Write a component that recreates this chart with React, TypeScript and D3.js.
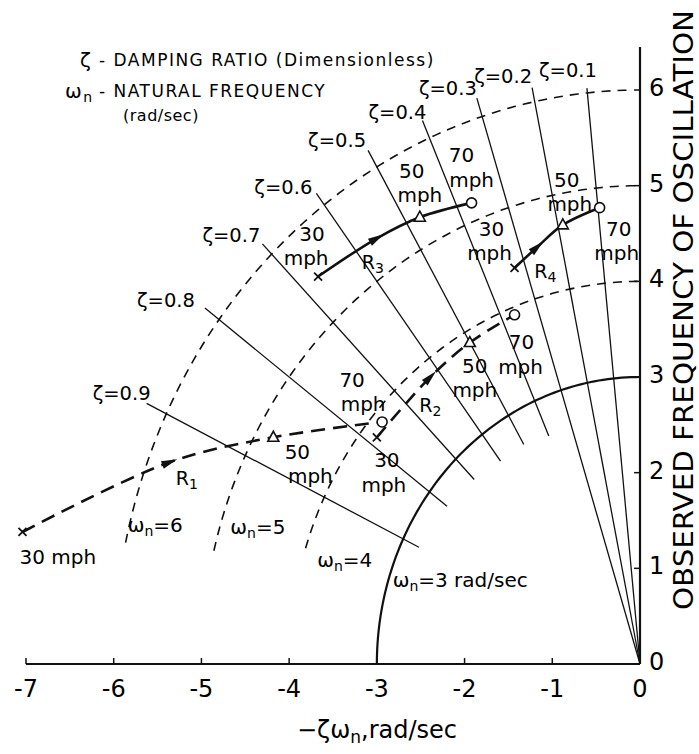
import * as d3 from "d3";

// axis ticks
const xTicks = [-7, -6, -5, -4, -3, -2, -1, 0];
const yTicks = [0, 1, 2, 3, 4, 5, 6];

// constant damping ratio lines (radius range in rad/sec)
const zetas = [0.1, 0.2, 0.3, 0.4, 0.5, 0.6, 0.7, 0.8, 0.9];
const zetaFrom = [0, 0, 0, 2.6, 2.65, 2.65, 2.7, 2.75, 2.8];
const zetaTo = [6.05, 6.15, 6.2, 6.2, 6.2, 6.15, 6.15, 6.2, 6.25];

// constant natural frequency arcs, start angle from the -real axis
const omegas = [3, 4, 5, 6];
const omegaFromDeg = [0, 17.6, 13.7, 12.2];

const speeds = ["30", "50", "70"];

// loci: point at 30 mph, arrow point, 50 mph, 70 mph
const r1Re = [-7.04, -5.36, -4.18, -2.94];
const r1Im = [1.38, 2.11, 2.37, 2.53];
const r2Re = [-3.0, -2.39, -1.94, -1.43];
const r2Im = [2.37, 3.0, 3.36, 3.65];
const r3Re = [-3.67, -3.0, -2.51, -1.92];
const r3Im = [4.05, 4.45, 4.67, 4.82];
const r4Re = [-1.43, -1.17, -0.88, -0.46];
const r4Im = [4.14, 4.36, 4.59, 4.77];

const FONT = "'DejaVu Sans', sans-serif";

// zeta label offsets (pixels from the outer end of each line)
const zetaLabelOffsets = [[10, -18], [0, -11], [0, -10], [4, -8], [-2, -10], [-4, -6], [-2, -8], [-10, -8], [4, -10]];

// label placement (pixels relative to marker)
const speedLabels = [
  { r: 0, i: 0, dx: -3, dy: 25, t: "30 mph", anchor: "start" },
  { r: 0, i: 2, dx: 24, dy: 15, t: "50" },
  { r: 0, i: 2, dx: 37, dy: 39, t: "mph" },
  { r: 0, i: 3, dx: -30, dy: -42, t: "70" },
  { r: 0, i: 3, dx: -19, dy: -18, t: "mph" },
  { r: 1, i: 0, dx: 10, dy: 23, t: "30" },
  { r: 1, i: 0, dx: 7, dy: 48, t: "mph" },
  { r: 1, i: 2, dx: 5, dy: 23, t: "50" },
  { r: 1, i: 2, dx: 5, dy: 47, t: "mph" },
  { r: 1, i: 3, dx: 7, dy: 27, t: "70" },
  { r: 1, i: 3, dx: 6, dy: 52, t: "mph" },
  { r: 2, i: 0, dx: -6, dy: -43, t: "30" },
  { r: 2, i: 0, dx: -12, dy: -19, t: "mph" },
  { r: 2, i: 2, dx: -8, dy: -46, t: "50" },
  { r: 2, i: 2, dx: 0, dy: -22, t: "mph" },
  { r: 2, i: 3, dx: -10, dy: -48, t: "70" },
  { r: 2, i: 3, dx: 0, dy: -23, t: "mph" },
  { r: 3, i: 0, dx: -23, dy: -39, t: "30" },
  { r: 3, i: 0, dx: -25, dy: -15, t: "mph" },
  { r: 3, i: 2, dx: 4, dy: -45, t: "50" },
  { r: 3, i: 2, dx: 7, dy: -21, t: "mph" },
  { r: 3, i: 3, dx: 19, dy: 21, t: "70" },
  { r: 3, i: 3, dx: 17, dy: 45, t: "mph" },
];
const rLabelOffsets = [[17, 16], [0, 28], [-4, 24], [8, 24]];
const omegaLabelPos = [[-2.82, 0.88], [-3.68, 1.09], [-4.67, 1.43], [-5.84, 1.45]];

export default function App() {
  const width = 699;
  const height = 754;
  const x = d3.scaleLinear().domain([-7, 0]).range([26, 640]);
  const y = d3.scaleLinear().domain([0, 6]).range([664, 90]);

  const loci = [
    { re: r1Re, im: r1Im, dashed: true },
    { re: r2Re, im: r2Im, dashed: true },
    { re: r3Re, im: r3Im, dashed: false },
    { re: r4Re, im: r4Im, dashed: false },
  ];

  const line = d3
    .line<[number, number]>()
    .x((d) => x(d[0]))
    .y((d) => y(d[1]));
  const curve = d3
    .line<[number, number]>()
    .x((d) => x(d[0]))
    .y((d) => y(d[1]))
    .curve(d3.curveCatmullRom.alpha(0.5));

  const arcPath = (w: number, fromDeg: number) => {
    const pts: [number, number][] = d3
      .range(fromDeg, 90.01, 1)
      .map((deg) => {
        const a = (deg * Math.PI) / 180;
        return [-w * Math.cos(a), w * Math.sin(a)];
      });
    return line(pts) || "";
  };

  const px = (re: number, im: number) => [x(re), y(im)];

  return (
    <svg
      width={width}
      height={height}
      style={{ position: "absolute", left: 0, top: 0, background: "#fff" }}
      fontFamily={FONT}
    >
      {/* natural frequency arcs */}
      {omegas.map((w, k) => (
        <path
          key={"w" + w}
          d={arcPath(w, omegaFromDeg[k])}
          fill="none"
          stroke="#111"
          strokeWidth={w === 3 ? 2.2 : 1.6}
          strokeDasharray={w === 3 ? undefined : "9 7"}
        />
      ))}

      {/* damping ratio lines */}
      {zetas.map((z, k) => {
        const s = Math.sqrt(1 - z * z);
        const p0: [number, number] = [-z * zetaFrom[k], s * zetaFrom[k]];
        const p1: [number, number] = [-z * zetaTo[k], s * zetaTo[k]];
        const [lx, ly] = px(p1[0], p1[1]);
        const [ox, oy] = zetaLabelOffsets[k];
        return (
          <g key={"z" + z}>
            <path d={line([p0, p1]) || ""} stroke="#111" strokeWidth={1.3} fill="none" />
            <text x={lx + ox} y={ly + oy} fontSize={19.5} textAnchor="end" dominantBaseline="central">
              {"ζ=" + z}
            </text>
          </g>
        );
      })}

      {/* axes */}
      <line x1={x(-7)} x2={x(0)} y1={y(0)} y2={y(0)} stroke="#111" strokeWidth={2.2} />
      <line x1={x(0)} x2={x(0)} y1={y(0)} y2={y(6.45)} stroke="#111" strokeWidth={2.2} />
      {xTicks.map((t) => (
        <g key={"xt" + t}>
          <line x1={x(t)} x2={x(t)} y1={y(0)} y2={y(0) - 6} stroke="#111" strokeWidth={1.5} />
          <text x={x(t)} y={y(0) + 25} fontSize={24} textAnchor="middle" dominantBaseline="central">
            {String(t)}
          </text>
        </g>
      ))}
      {yTicks.map((t) => (
        <g key={"yt" + t}>
          <line x1={x(0) - 6} x2={x(0)} y1={y(t)} y2={y(t)} stroke="#111" strokeWidth={1.5} />
          <text x={x(0) + 9} y={y(t) - 2} fontSize={24} textAnchor="start" dominantBaseline="central">
            {String(t)}
          </text>
        </g>
      ))}
      <text x={377} y={730} fontSize={24} textAnchor="middle" dominantBaseline="central">
        {"−ζω"}
        <tspan fontSize={17} dy={7}>n</tspan>
        <tspan dy={-7}>,rad/sec</tspan>
      </text>
      <text
        transform="translate(683,310) rotate(-90)"
        fontSize={27}
        textAnchor="middle"
        dominantBaseline="central"
        textLength={600}
        lengthAdjust="spacingAndGlyphs"
      >
        OBSERVED FREQUENCY OF OSCILLATION
      </text>

      {/* omega labels */}
      {omegas.map((w, k) => {
        const [lx, ly] = px(omegaLabelPos[k][0], omegaLabelPos[k][1]);
        return (
          <text key={"wl" + w} x={lx} y={ly} fontSize={20} dominantBaseline="central">
            {"ω"}
            <tspan fontSize={14} dy={6}>n</tspan>
            <tspan dy={-6}>{"=" + w + (w === 3 ? " rad/sec" : "")}</tspan>
          </text>
        );
      })}

      {/* loci */}
      {loci.map((L, r) => {
        const pts: [number, number][] = L.re.map((v, i) => [v, L.im[i]]);
        const P = pts.map((p) => px(p[0], p[1]));
        const [ax, ay] = P[1];
        const ang = Math.atan2(P[2][1] - P[0][1], P[2][0] - P[0][0]);
        const ca = Math.cos(ang);
        const sa = Math.sin(ang);
        const tip = [ax + 8 * ca, ay + 8 * sa];
        const b1 = [ax - 8 * ca - 4 * sa, ay - 8 * sa + 4 * ca];
        const b2 = [ax - 8 * ca + 4 * sa, ay - 8 * sa - 4 * ca];
        const [x0, y0] = P[0];
        const [x2, y2] = P[2];
        const [x3, y3] = P[3];
        const [rx, ry] = [ax + rLabelOffsets[r][0], ay + rLabelOffsets[r][1]];
        return (
          <g key={"R" + r}>
            <path
              d={curve(pts) || ""}
              fill="none"
              stroke="#111"
              strokeWidth={2.6}
              strokeDasharray={L.dashed ? "14 8" : undefined}
            />
            <path d={`M${tip[0]},${tip[1]}L${b1[0]},${b1[1]}L${b2[0]},${b2[1]}Z`} fill="#111" />
            <path
              d={`M${x0 - 4},${y0 - 4}L${x0 + 4},${y0 + 4}M${x0 - 4},${y0 + 4}L${x0 + 4},${y0 - 4}`}
              stroke="#111"
              strokeWidth={1.8}
            />
            <path
              d={`M${x2},${y2 - 6}L${x2 + 5.5},${y2 + 4}L${x2 - 5.5},${y2 + 4}Z`}
              fill="#fff"
              stroke="#111"
              strokeWidth={1.6}
            />
            <circle cx={x3} cy={y3} r={5} fill="#fff" stroke="#111" strokeWidth={1.6} />
            <text x={rx} y={ry} fontSize={19} textAnchor="middle" dominantBaseline="central">
              R<tspan fontSize={14} dy={6}>{String(r + 1)}</tspan>
            </text>
          </g>
        );
      })}

      {/* speed labels */}
      {speedLabels.map((s, k) => {
        const L = loci[s.r];
        const [mx, my] = px(L.re[s.i], L.im[s.i]);
        const sp = speeds[s.i === 0 ? 0 : s.i === 2 ? 1 : 2];
        const t = s.t === "mph" ? "mph" : s.t.includes("mph") ? sp + " mph" : sp;
        return (
          <text
            key={"sl" + k}
            x={mx + s.dx}
            y={my + s.dy}
            fontSize={20}
            textAnchor={s.anchor || "middle"}
            dominantBaseline="central"
          >
            {t}
          </text>
        );
      })}

      {/* legend */}
      <g fontSize={17} letterSpacing={1.5}>
        <text x={80} y={60} dominantBaseline="central" fontSize={20}>ζ</text>
        <text x={99} y={60} dominantBaseline="central">- DAMPING  RATIO (Dimensionless)</text>
        <text x={65} y={91} dominantBaseline="central" fontSize={20}>
          ω<tspan fontSize={14} dy={6}>n</tspan>
        </text>
        <text x={99} y={91} dominantBaseline="central">- NATURAL  FREQUENCY</text>
        <text x={123} y={115} dominantBaseline="central" fontSize={16} letterSpacing={0.5}>
          (rad/sec)
        </text>
      </g>
    </svg>
  );
}
